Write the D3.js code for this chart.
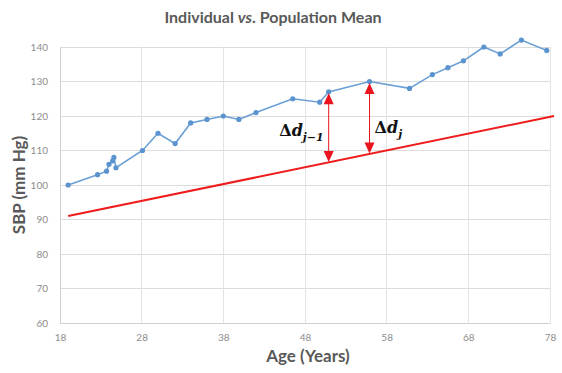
<!DOCTYPE html>
<html><head><meta charset="utf-8">
<script src="https://cdn.jsdelivr.net/npm/d3@7"></script>
<style>body{margin:0;background:#fff}svg{display:block}</style>
</head><body>
<svg id="c" width="562" height="373"></svg>
<script>
const ages = [19, 22.6, 23.7, 24.0, 24.45, 24.6, 24.85, 28.1, 30, 32.1, 34, 36, 38, 39.9, 42, 46.5, 49.8, 50.9, 55.9, 60.8, 63.6, 65.5, 67.4, 69.9, 71.9, 74.5, 77.6];
const sbp  = [100, 103, 104, 106, 107, 108, 105, 110, 115, 112, 118, 119, 120, 119, 121, 125, 124, 127, 130, 128, 132, 134, 136, 140, 138, 142, 139];
const popAge = [19, 78.5];
const popMean = [91, 120];
const arrowIdx = [17, 18];
const arrowLabels = ["j\u22121", "j"];
const xTicks = [18, 28, 38, 48, 58, 68, 78];
const yTicks = [60, 70, 80, 90, 100, 110, 120, 130, 140];

const svg = d3.select("#c");
const x = d3.scaleLinear().domain([18, 78]).range([60, 550]);
const y = d3.scaleLinear().domain([60, 140]).range([323, 47]);
const grey = "#595959";

// gridlines
svg.append("g").selectAll("line.h").data(yTicks).join("line")
  .attr("x1", 60).attr("x2", 550).attr("y1", d => y(d)).attr("y2", d => y(d))
  .attr("stroke", "#dcdcdc").attr("stroke-width", 1).attr("shape-rendering", "crispEdges");
svg.append("g").selectAll("line.v").data(xTicks).join("line")
  .attr("y1", 47).attr("y2", 323).attr("x1", d => x(d)).attr("x2", d => x(d))
  .attr("stroke", "#e4e4e4").attr("stroke-width", 1).attr("shape-rendering", "crispEdges");

// axes via d3
const xa = svg.append("g").attr("transform", "translate(0,323)")
  .call(d3.axisBottom(x).tickValues(xTicks).tickSize(0).tickPadding(11).tickFormat(d3.format("d")));
const ya = svg.append("g").attr("transform", "translate(60,0)")
  .call(d3.axisLeft(y).tickValues(yTicks).tickSize(0).tickPadding(12).tickFormat(d3.format("d")));
[xa, ya].forEach(a => {
  a.select(".domain").attr("stroke", "#d0d0d0");
  a.selectAll("text").attr("fill", "#8c8c8c").attr("font-family", "Lato, 'Open Sans', sans-serif").attr("font-size", 10);
});

// population mean line
const popLine = d3.line().x((d, i) => x(popAge[i])).y(d => y(d));
svg.append("path").datum(popMean).attr("d", popLine)
  .attr("fill", "none").attr("stroke", "#ee1c1c").attr("stroke-width", 2);

// individual line
const indLine = d3.line().x((d, i) => x(ages[i])).y(d => y(d));
svg.append("path").datum(sbp).attr("d", indLine)
  .attr("fill", "none").attr("stroke", "#6a9fd6").attr("stroke-width", 1.6);
svg.append("g").selectAll("circle").data(sbp).join("circle")
  .attr("cx", (d, i) => x(ages[i])).attr("cy", d => y(d)).attr("r", 2.6)
  .attr("fill", "#5b93cf");

// arrows
const popAt = a => popMean[0] + (popMean[1] - popMean[0]) * (a - popAge[0]) / (popAge[1] - popAge[0]);
const red = "#e8141e";
arrowIdx.forEach((k, j) => {
  const ax = x(ages[k]);
  const yTop = y(sbp[k]) + 1.5;
  const yBot = y(popAt(ages[k])) - 0.5;
  const g = svg.append("g");
  g.append("line").attr("x1", ax).attr("x2", ax).attr("y1", yTop + 9).attr("y2", yBot - 9)
    .attr("stroke", red).attr("stroke-width", 1);
  g.append("path").attr("d", `M${ax},${yTop} L${ax-5},${yTop+11} L${ax+5},${yTop+11} Z`).attr("fill", red);
  g.append("path").attr("d", `M${ax},${yBot} L${ax-5},${yBot-11} L${ax+5},${yBot-11} Z`).attr("fill", red);
  const t = svg.append("text")
    .attr("x", j === 0 ? ax - 5 : ax + 5).attr("y", j === 0 ? 136 : 133)
    .attr("text-anchor", j === 0 ? "end" : "start")
    .attr("font-family", "'DejaVu Serif', 'Liberation Serif', serif").attr("font-weight", "bold")
    .attr("font-size", 16).attr("fill", "#111");
  t.append("tspan").text("\u0394");
  t.append("tspan").attr("font-style", "italic").text("d");
  t.append("tspan").attr("font-style", "italic").attr("font-size", 11).attr("dy", 5).text(arrowLabels[j]);
});

// titles
svg.append("text").attr("x", 273).attr("y", 23).attr("text-anchor", "middle")
  .attr("font-family", "Lato, 'Open Sans', sans-serif").attr("font-weight", "bold")
  .attr("font-size", 16).attr("fill", grey)
  .call(t => {
    t.append("tspan").text("Individual ");
    t.append("tspan").attr("font-style", "italic").text("vs");
    t.append("tspan").text(". Population Mean");
  });
svg.append("text").attr("x", 308).attr("y", 362).attr("text-anchor", "middle")
  .attr("font-family", "Lato, 'Open Sans', sans-serif").attr("font-weight", "bold")
  .attr("font-size", 17).attr("fill", grey).text("Age (Years)");
svg.append("text").attr("transform", "translate(25,185) rotate(-90)").attr("text-anchor", "middle")
  .attr("font-family", "Lato, 'Open Sans', sans-serif").attr("font-weight", "bold")
  .attr("font-size", 17).attr("fill", grey).text("SBP (mm Hg)");
</script>
</body></html>
